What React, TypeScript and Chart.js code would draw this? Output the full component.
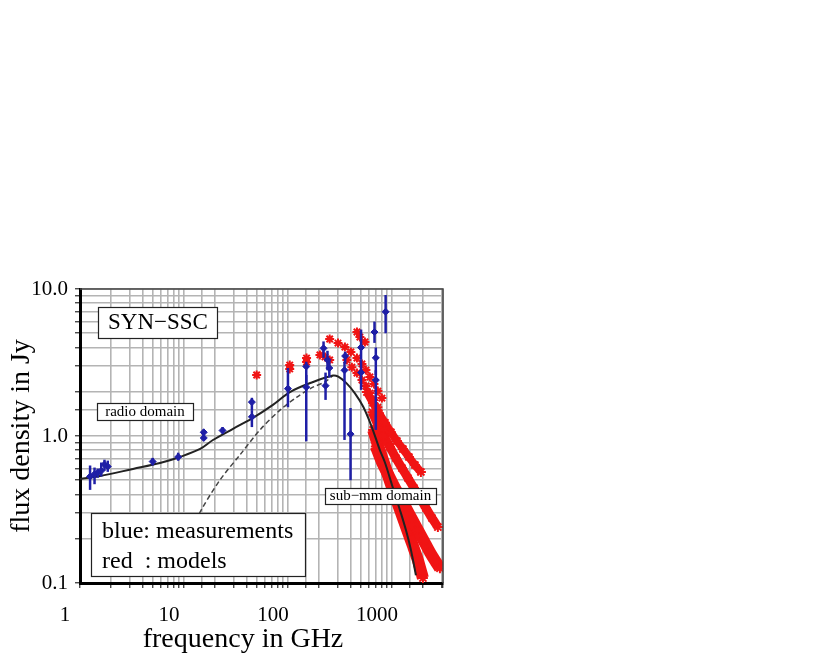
import React, { useEffect, useRef } from 'react';
import { Chart, registerables } from 'chart.js';

Chart.register(...registerables);

const FONT = '"Liberation Serif", "Times New Roman", serif';
const BLUE = '#1f1fa6';
const RED = '#f01414';
const GRID = '#b4b4b4';

// axis tick labels
const xTickValues = [1, 10, 100, 1000];
const xTickLabels = ['1', '10', '100', '1000'];
const yTickValues = [0.1, 1, 10];
const yTickLabels = ['0.1', '1.0', '10.0'];

// blue: measurements (GHz, Jy, error low, error high)
const blueFreq = [1.25, 1.38, 1.48, 1.6, 1.72, 1.85, 5.0, 8.8, 15.5, 15.5, 23.5, 45, 45, 100, 150, 150, 220, 230, 240, 250, 350, 355, 400, 505, 505, 680, 700, 700, 870];
const blueFlux = [0.53, 0.55, 0.56, 0.58, 0.64, 0.62, 0.67, 0.72, 0.97, 1.06, 1.09, 1.35, 1.7, 2.1, 2.97, 2.15, 3.95, 2.2, 3.3, 2.9, 2.8, 3.5, 1.03, 4.0, 2.7, 5.1, 3.4, 2.4, 7.0];
const blueLow = [0.43, 0.47, 0.52, 0.53, 0.58, 0.57, 0.63, 0.68, 0.93, 1.01, 1.04, 1.15, 1.5, 1.57, 2.2, 0.92, 3.4, 1.76, 2.8, 2.5, 0.94, 3.1, 0.5, 3.3, 2.06, 4.3, 2.6, 1.1, 5.0];
const blueHigh = [0.63, 0.61, 0.6, 0.66, 0.69, 0.68, 0.71, 0.77, 1.02, 1.11, 1.15, 1.5, 1.82, 2.9, 3.2, 2.6, 4.4, 2.7, 3.8, 3.3, 3.2, 3.75, 1.55, 5.3, 3.3, 6.0, 4.0, 2.8, 9.1];

// black: SYN-SSC model curve
const modelFreq = [1, 1.56, 3.23, 5.88, 9.15, 14.3, 19.0, 29.6, 46.1, 71.7, 104.5, 174, 271, 305, 367, 441, 530, 638, 767, 857, 1023, 1194, 1364, 1523, 1702];
const modelFlux = [0.51, 0.534, 0.597, 0.655, 0.72, 0.816, 0.939, 1.12, 1.33, 1.63, 1.99, 2.33, 2.58, 2.53, 2.28, 1.95, 1.58, 1.16, 0.8, 0.66, 0.443, 0.314, 0.229, 0.168, 0.113];

// dashed: SSC component
const dashFreq = [7.33, 10.2, 14.3, 22.2, 34.5, 53.8, 83.8, 122, 174, 227, 271];
const dashFlux = [0.1226, 0.181, 0.304, 0.502, 0.743, 1.1, 1.5, 1.84, 2.15, 2.33, 2.58];

// red: models
const redPeakFreq = [50, 104, 104, 151, 151, 203, 227, 252, 252, 303, 461, 492, 550];
const redPeakFlux = [2.6, 3.04, 2.86, 3.39, 3.19, 3.56, 3.45, 4.57, 3.29, 4.29, 5.1, 4.71, 4.36];
const redRow1Freq = [353, 403, 461, 515, 562, 614, 671, 733, 801];
const redRow1Flux = [4.03, 3.73, 3.39, 3.09, 2.81, 2.52, 2.26, 2.02, 1.81];
const redRow2Freq = [369, 412, 461, 515, 562, 614, 671, 733];
const redRow2Flux = [3.29, 2.94, 2.68, 2.4, 2.19, 1.96, 1.76, 1.57];
const redBandAFreq = [575, 657, 750, 857, 978, 1117, 1276, 1457, 1664, 1900];
const redBandAFlux = [1.99, 1.68, 1.43, 1.23, 1.06, 0.925, 0.816, 0.72, 0.635, 0.569];
const redBandBFreq = [650, 733, 838, 957, 1092, 1248, 1426, 1629, 1858, 2123, 2426, 2767];
const redBandBFlux = [1.45, 1.19, 1.0, 0.842, 0.709, 0.605, 0.518, 0.443, 0.379, 0.324, 0.277, 0.24];
const redBandCFreq = [700, 801, 915, 1045, 1194, 1364, 1557, 1778, 2031, 2319, 2649, 2895];
const redBandCFlux = [0.85, 0.665, 0.551, 0.457, 0.385, 0.324, 0.272, 0.229, 0.193, 0.162, 0.139, 0.126];
const redBandDFreq = [660, 733, 819, 915, 1023, 1142, 1276, 1426, 1592, 1778, 1986];
const redBandDFlux = [1.1, 0.869, 0.687, 0.543, 0.429, 0.345, 0.277, 0.222, 0.179, 0.143, 0.108];

const pts = (xs: number[], ys: number[]) => xs.map((x, i) => ({ x, y: ys[i] }));

const matchLabel = (vals: number[], labels: string[], v: number) => {
  const i = vals.findIndex((t) => Math.abs(t - v) / t < 1e-6);
  return i >= 0 ? labels[i] : '';
};

const overlayPlugin = {
  id: 'overlay',
  afterDatasetsDraw(chart: any) {
    const { ctx, scales } = chart;
    const x = scales.x;
    const y = scales.y;
    ctx.save();
    ctx.strokeStyle = BLUE;
    ctx.lineWidth = 2.5;
    blueFreq.forEach((f, i) => {
      const px = x.getPixelForValue(f);
      ctx.beginPath();
      ctx.moveTo(px, y.getPixelForValue(blueLow[i]));
      ctx.lineTo(px, y.getPixelForValue(blueHigh[i]));
      ctx.stroke();
    });
    ctx.restore();
  },
  afterDraw(chart: any) {
    const { ctx, chartArea: a } = chart;
    ctx.save();
    ctx.strokeStyle = '#444';
    ctx.lineWidth = 1.5;
    ctx.beginPath();
    ctx.moveTo(a.left, a.top);
    ctx.lineTo(a.right, a.top);
    ctx.lineTo(a.right, a.bottom);
    ctx.stroke();

    const box = (bx: number, by: number, w: number, h: number) => {
      ctx.fillStyle = '#fff';
      ctx.fillRect(a.left + bx, a.top + by, w, h);
      ctx.strokeStyle = '#222';
      ctx.lineWidth = 1.2;
      ctx.strokeRect(a.left + bx + 0.5, a.top + by + 0.5, w, h);
    };
    ctx.fillStyle = '#000';
    ctx.textBaseline = 'middle';

    box(18, 18, 119, 31);
    ctx.fillStyle = '#000';
    ctx.font = `23px ${FONT}`;
    ctx.textAlign = 'center';
    ctx.fillText('SYN\u2212SSC', a.left + 78, a.top + 34);

    box(17, 114, 96, 17);
    ctx.fillStyle = '#000';
    ctx.font = `15px ${FONT}`;
    ctx.fillText('radio domain', a.left + 65, a.top + 123);

    box(245, 199, 111, 16);
    ctx.fillStyle = '#000';
    ctx.font = `15px ${FONT}`;
    ctx.fillText('sub\u2212mm domain', a.left + 300.5, a.top + 207.5);

    box(11, 224, 214, 63);
    ctx.fillStyle = '#000';
    ctx.font = `24px ${FONT}`;
    ctx.textAlign = 'left';
    ctx.fillText('blue: measurements', a.left + 22, a.top + 243);
    ctx.fillText('red  : models', a.left + 22, a.top + 273);

    ctx.textAlign = 'center';
    ctx.font = `28px ${FONT}`;
    ctx.fillText('frequency in GHz', a.left + 163, a.bottom + 57);
    ctx.restore();
  },
};

const redBand = (xs: number[], ys: number[], width: number) => ({
  data: pts(xs, ys),
  showLine: true,
  borderColor: RED,
  backgroundColor: RED,
  borderWidth: width,
  pointStyle: 'star',
  pointRadius: 5,
  pointBorderWidth: 2,
  pointBorderColor: RED,
  tension: 0.2,
});

const redDots = (xs: number[], ys: number[]) => ({
  data: pts(xs, ys),
  showLine: false,
  borderColor: RED,
  backgroundColor: RED,
  pointStyle: 'star',
  pointRadius: 4.5,
  pointBorderWidth: 2,
});

export default function App() {
  const ref = useRef<HTMLCanvasElement>(null);
  useEffect(() => {
    const chart = new Chart(ref.current as HTMLCanvasElement, {
      type: 'scatter',
      data: {
        datasets: [
          {
            label: 'blue: measurements',
            data: pts(blueFreq, blueFlux),
            showLine: false,
            pointStyle: 'rectRot',
            pointRadius: 3.5,
            backgroundColor: BLUE,
            borderColor: BLUE,
          },
          {
            label: 'model',
            data: pts(modelFreq, modelFlux),
            showLine: true,
            borderColor: '#222',
            borderWidth: 2,
            pointRadius: 0,
            tension: 0.35,
          },
          {
            label: 'SSC',
            data: pts(dashFreq, dashFlux),
            showLine: true,
            borderColor: '#444',
            borderWidth: 1.5,
            borderDash: [5, 3],
            pointRadius: 0,
            tension: 0.3,
          },
          redDots(redPeakFreq, redPeakFlux),
          redDots(redRow1Freq, redRow1Flux),
          redDots(redRow2Freq, redRow2Flux),
          redBand(redBandAFreq, redBandAFlux, 8),
          redBand(redBandBFreq, redBandBFlux, 9),
          redBand(redBandCFreq, redBandCFlux, 12),
          redBand(redBandDFreq, redBandDFlux, 12),
        ] as any,
      },
      options: {
        animation: false,
        responsive: true,
        maintainAspectRatio: false,
        layout: { padding: { top: 281, right: 25, left: 0, bottom: 0 } },
        plugins: { legend: { display: false }, tooltip: { enabled: false } },
        scales: {
          x: {
            type: 'logarithmic',
            min: 1,
            max: 3100,
            afterFit: (s: any) => {
              s.height = 74;
            },
            border: { color: '#000', width: 3 },
            grid: { color: GRID, lineWidth: 1.6, tickColor: '#000', tickLength: 5, tickWidth: 1 },
            ticks: {
              autoSkip: false,
              maxRotation: 0,
              minRotation: 0,
              padding: 15,
              labelOffset: -15,
              color: '#000',
              font: { family: FONT, size: 21 },
              callback: (v: any) => matchLabel(xTickValues, xTickLabels, Number(v)),
            },
          },
          y: {
            type: 'logarithmic',
            min: 0.1,
            max: 10,
            afterFit: (s: any) => {
              s.width = 72;
            },
            border: { color: '#000', width: 3 },
            grid: { color: GRID, lineWidth: 1.6, tickColor: '#000', tickLength: 5, tickWidth: 1 },
            title: {
              display: true,
              text: 'flux density in Jy',
              color: '#000',
              padding: 0,
              font: { family: FONT, size: 28, lineHeight: 1 },
            },
            ticks: {
              autoSkip: false,
              padding: 7,
              color: '#000',
              font: { family: FONT, size: 21 },
              callback: (v: any) => matchLabel(yTickValues, yTickLabels, Number(v)),
            },
          },
        },
      } as any,
      plugins: [overlayPlugin],
    });
    return () => chart.destroy();
  }, []);
  return (
    <div style={{ position: 'relative', width: 460, height: 649 }}>
      <canvas ref={ref} />
    </div>
  );
}
